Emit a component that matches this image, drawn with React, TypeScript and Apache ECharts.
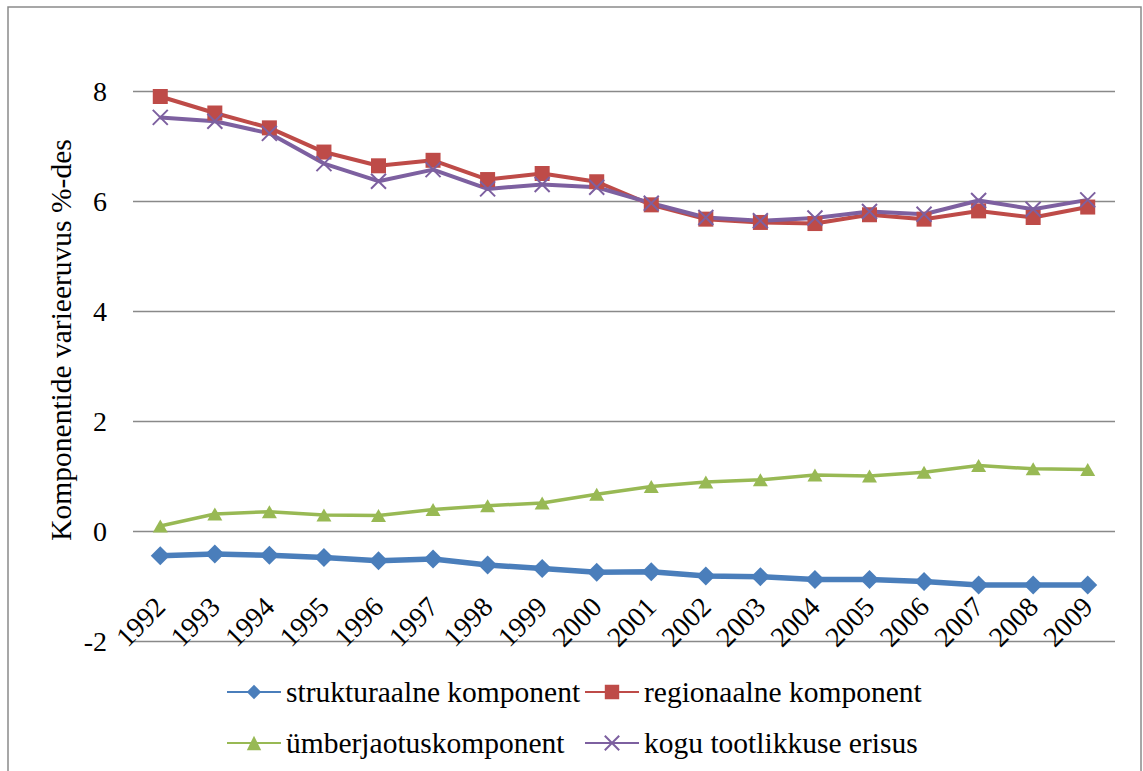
import React, { useEffect, useRef, useState } from "react";
import * as echarts from "echarts";

const years = ["1992","1993","1994","1995","1996","1997","1998","1999","2000","2001","2002","2003","2004","2005","2006","2007","2008","2009"];
const strukturaalne = [-0.45, -0.42, -0.44, -0.48, -0.54, -0.51, -0.62, -0.68, -0.75, -0.74, -0.82, -0.83, -0.88, -0.88, -0.92, -0.98, -0.98, -0.98];
const regionaalne = [7.90, 7.60, 7.33, 6.89, 6.64, 6.74, 6.39, 6.50, 6.35, 5.93, 5.67, 5.61, 5.59, 5.75, 5.67, 5.82, 5.70, 5.89];
const umberjaotus = [0.09, 0.31, 0.35, 0.29, 0.28, 0.39, 0.46, 0.51, 0.67, 0.81, 0.89, 0.93, 1.02, 1.00, 1.07, 1.19, 1.13, 1.12];
const kogu = [7.52, 7.45, 7.23, 6.68, 6.36, 6.57, 6.22, 6.30, 6.25, 5.96, 5.70, 5.64, 5.69, 5.81, 5.76, 6.01, 5.85, 6.02];

const names = ["strukturaalne komponent", "regionaalne komponent", "ümberjaotuskomponent", "kogu tootlikkuse erisus"];
const yTitle = "Komponentide varieeruvus %-des";

const FONT = "Liberation Serif";

function buildOption() {
  const legendBase = {
    orient: "horizontal",
    padding: 0,
    itemWidth: 54,
    itemHeight: 18,
    textStyle: { fontFamily: FONT, fontSize: 29.5, color: "#000", lineHeight: 30 },
  };
  return {
    animation: false,
    backgroundColor: "#fff",
    grid: { left: 133, right: 28, top: 91, bottom: 130 },
    xAxis: {
      type: "category",
      data: years,
      boundaryGap: true,
      axisLine: { show: false, onZero: false },
      axisTick: { show: false },
      axisLabel: { interval: 0, rotate: 45, margin: -39, fontFamily: FONT, fontSize: 28, color: "#000" },
    },
    yAxis: {
      type: "value",
      min: -2,
      max: 8,
      interval: 2,
      axisLine: { show: false },
      axisTick: { show: false },
      axisLabel: { margin: 26, fontFamily: FONT, fontSize: 28, color: "#000" },
      splitLine: { lineStyle: { color: "#898989", width: 1.3 } },
    },
    legend: [
      { ...legendBase, data: [names[0]], left: 226, top: 677 },
      { ...legendBase, data: [names[1]], left: 584, top: 677 },
      { ...legendBase, data: [names[2]], left: 226, top: 728 },
      { ...legendBase, data: [names[3]], left: 584, top: 728 },
    ],
    graphic: [
      {
        type: "rect",
        shape: { x: 8, y: 7, width: 1133, height: 800 },
        style: { fill: "none", stroke: "#8a8a8a", lineWidth: 1.5 },
        silent: true,
      },
      {
        type: "text",
        x: 61,
        y: 340,
        rotation: Math.PI / 2,
        style: { text: yTitle, fontFamily: FONT, fontSize: 29.5, fill: "#000", align: "center", verticalAlign: "middle" },
      },
    ],
    series: [
      { name: names[0], type: "line", data: strukturaalne, color: "#4a7ebb", symbol: "diamond", symbolSize: 19, lineStyle: { width: 5.5 } },
      { name: names[1], type: "line", data: regionaalne, color: "#be4b48", symbol: "rect", symbolSize: 15, lineStyle: { width: 4 } },
      { name: names[2], type: "line", data: umberjaotus, color: "#98b954", symbol: "triangle", symbolSize: [15, 13], lineStyle: { width: 3.5 } },
      { name: names[3], type: "line", data: kogu, color: "#7d60a0", symbol: "path://M0,0 L10,10 M10,0 L0,10", symbolSize: 15, lineStyle: { width: 4 }, itemStyle: { borderColor: "#7d60a0", borderWidth: 2 } },
    ],
  };
}

export default function App() {
  const ref = useRef<HTMLDivElement>(null);
  const [tick, setTick] = useState(0);
  useEffect(() => {
    if (!ref.current) return;
    // warm up the serif font so that every SVG text resolves it
    const warm = document.createElement("span");
    warm.style.cssText = "position:absolute;left:-9999px;top:-9999px;font-family:'Liberation Serif';font-size:28px;";
    warm.textContent = "Komponentide 1992 -2";
    document.body.appendChild(warm);
    void warm.offsetWidth;
    document.body.removeChild(warm);

    const chart = echarts.init(ref.current, null, { renderer: "svg" });
    chart.setOption(buildOption());
    setTick(1);
    const raf = requestAnimationFrame(() => {
      chart.clear();
      chart.setOption(buildOption());
      setTick(2);
    });
    return () => {
      cancelAnimationFrame(raf);
      chart.dispose();
    };
  }, []);
  return (
    <div data-tick={tick} style={{ position: "absolute", left: 0, top: 0, width: 1143, height: 771, background: "#fff" }}>
      <div ref={ref} style={{ position: "absolute", left: 0, top: 0, width: 1143, height: 771 }} />
    </div>
  );
}
